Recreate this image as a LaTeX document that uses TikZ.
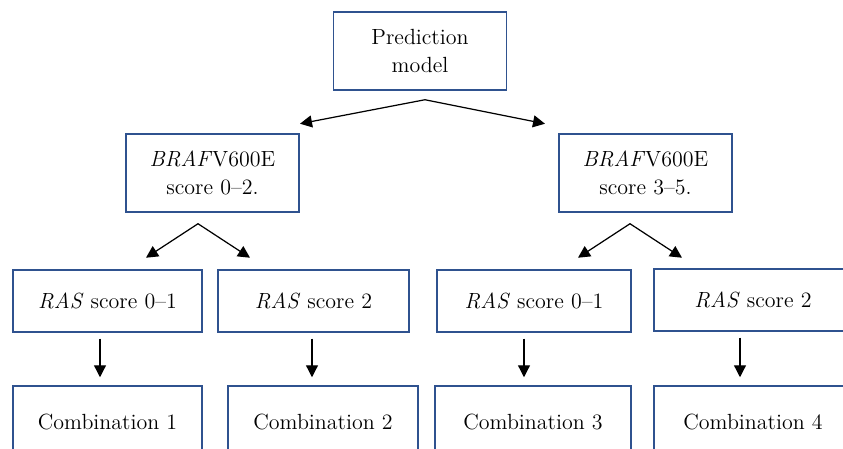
\documentclass[tikz,border=0pt]{standalone}
\usepackage{xcolor}
\usepackage{tikz}
\usetikzlibrary{arrows.meta, positioning, calc}

\definecolor{boxblue}{HTML}{2F528F}

\begin{document}
\begin{tikzpicture}
  [
    x=0.02cm, y=-0.02cm,
    Box/.style={rectangle, draw=boxblue, line width=0.85pt, align=center, inner sep=0pt,
      font=\fontsize{12.5}{16}\selectfont},
    Top/.style={Box, minimum width=3.47cm, minimum height=1.56cm},
    Ras/.style={Box, minimum height=1.24cm},
    Comb/.style={Box, minimum height=1.44cm},
    Arrow/.style={line width=0.7pt, -{Triangle[length=0.24cm, width=0.24cm]}},
    Split/.style={line width=0.7pt, {Triangle[length=0.24cm, width=0.24cm]}-{Triangle[length=0.24cm, width=0.24cm]}}
  ]
  \useasboundingbox (0,0) rectangle (843,449);
  \clip (0,0) rectangle (843,449);

  % Nodes
  \node[Top] (pm) at(420, 51) {Prediction\\model};

  \node[Top] (b1) at(212.5, 173) {\textit{BRAF}V600E\\score 0--2.};
  \node[Top] (b2) at(645.5, 173) {\textit{BRAF}V600E\\score 3--5.};

  \node[Ras, minimum width=3.78cm] (r1) at(107.5, 301) {\textit{RAS} score 0--1};
  \node[Ras, minimum width=3.82cm] (r2) at(313.5, 301) {\textit{RAS} score 2};
  \node[Ras, minimum width=3.88cm] (r3) at(534, 301) {\textit{RAS} score 0--1};
  \node[Ras, minimum width=3.96cm] (r4) at(753, 300) {\textit{RAS} score 2};

  \node[Comb, minimum width=3.78cm] (c1) at(107.5, 422) {Combination 1};
  \node[Comb, minimum width=3.80cm] (c2) at(323, 422) {Combination 2};
  \node[Comb, minimum width=3.92cm] (c3) at(533, 422) {Combination 3};
  \node[Comb, minimum width=3.96cm] (c4) at(753, 422) {Combination 4};

  % Split points
  \coordinate (a0) at ($(pm.south)+(5, 9)$);
  \coordinate (a1) at ($(b1.south)+(-14.5, 11)$);
  \coordinate (a2) at ($(b2.south)+(-15.5, 11)$);

  % Lines
  \path [Split, draw] ($(a0)+(-125, 24)$) -- (a0) -- ($(a0)+(120, 24)$);
  \path [Split, draw] ($(a1)+(-52, 34)$) -- (a1) -- ($(a1)+(52, 34)$);
  \path [Split, draw] ($(a2)+(-52, 34)$) -- (a2) -- ($(a2)+(52, 34)$);

  \foreach \r/\c/\dx in {r1/c1/-7.5, r2/c2/-1.5, r3/c3/-10, r4/c4/-13}
    \path [Arrow, draw] ([xshift=\dx*0.02cm, yshift=-6*0.02cm]\r.south) -- ([xshift=\dx*0.02cm, yshift=8*0.02cm]\r.south |- \c.north);

\end{tikzpicture}
\end{document}
